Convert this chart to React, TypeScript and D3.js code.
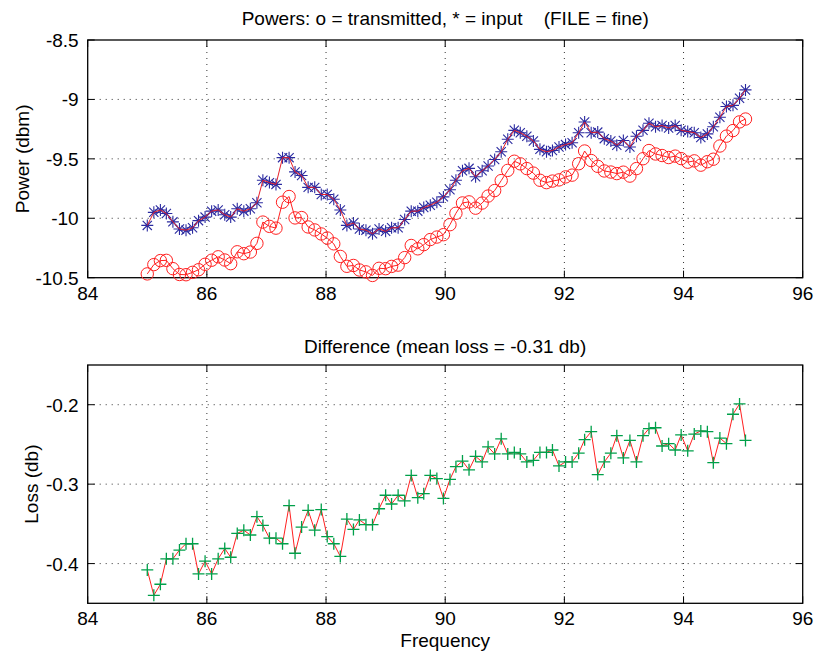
import React from "react";
import * as d3 from "d3";

const freq = [
  85.0, 85.11, 85.22, 85.32, 85.43, 85.54, 85.65, 85.76, 85.86, 85.97,
  86.08, 86.19, 86.3, 86.4, 86.51, 86.62, 86.73, 86.84, 86.94, 87.05,
  87.16, 87.27, 87.38, 87.48, 87.59, 87.7, 87.81, 87.92, 88.02, 88.13,
  88.24, 88.35, 88.46, 88.56, 88.67, 88.78, 88.89, 89.0, 89.1, 89.21,
  89.32, 89.43, 89.54, 89.64, 89.75, 89.86, 89.97, 90.08, 90.18, 90.29,
  90.4, 90.51, 90.62, 90.72, 90.83, 90.94, 91.05, 91.16, 91.26, 91.37,
  91.48, 91.59, 91.7, 91.8, 91.91, 92.02, 92.13, 92.24, 92.34, 92.45,
  92.56, 92.67, 92.78, 92.88, 92.99, 93.1, 93.21, 93.32, 93.42, 93.53,
  93.64, 93.75, 93.86, 93.96, 94.07, 94.18, 94.29, 94.4, 94.5, 94.61,
  94.72, 94.83, 94.94, 95.04,
];

const inputPower = [
  -10.06, -9.95, -9.93, -9.96, -10.03, -10.09, -10.1, -10.08, -10.02, -9.99,
  -9.94, -9.93, -9.97, -9.99, -9.92, -9.94, -9.92, -9.87, -9.68, -9.7,
  -9.715, -9.49, -9.49, -9.61, -9.64, -9.74, -9.74, -9.8, -9.8, -9.84,
  -9.93, -10.06, -10.04, -10.09, -10.1, -10.13, -10.09, -10.11, -10.08, -10.08,
  -10.01, -9.94, -9.94, -9.91, -9.89, -9.865, -9.82, -9.76, -9.68, -9.6,
  -9.58, -9.65, -9.6, -9.56, -9.505, -9.44, -9.335, -9.26, -9.28, -9.31,
  -9.35, -9.42, -9.44, -9.43, -9.4, -9.38, -9.365, -9.28, -9.19, -9.28,
  -9.275, -9.33, -9.35, -9.385, -9.345, -9.4, -9.31, -9.26, -9.2, -9.23,
  -9.22, -9.24, -9.22, -9.26, -9.27, -9.28, -9.32, -9.29, -9.23, -9.15,
  -9.06, -9.05, -8.99, -8.92,
];

const transmittedPower = [
  -10.468, -10.39, -10.356, -10.354, -10.424, -10.473, -10.475, -10.455, -10.433, -10.387,
  -10.353, -10.324, -10.351, -10.382, -10.282, -10.298, -10.284, -10.211, -10.032, -10.068,
  -10.083, -9.865, -9.817, -9.997, -9.994, -10.073, -10.098, -10.132, -10.166, -10.215,
  -10.321, -10.404, -10.397, -10.435, -10.451, -10.481, -10.421, -10.424, -10.405, -10.394,
  -10.331, -10.229, -10.257, -10.222, -10.179, -10.158, -10.138, -10.054, -9.958, -9.871,
  -9.862, -9.915, -9.872, -9.813, -9.767, -9.683, -9.597, -9.52, -9.542, -9.582,
  -9.62, -9.68, -9.7, -9.687, -9.677, -9.652, -9.637, -9.541, -9.434, -9.514,
  -9.563, -9.602, -9.611, -9.624, -9.612, -9.645, -9.582, -9.499, -9.43, -9.459,
  -9.472, -9.489, -9.477, -9.498, -9.528, -9.517, -9.553, -9.524, -9.503, -9.392,
  -9.309, -9.262, -9.189, -9.165,
];

const loss = [
  -0.408, -0.44, -0.426, -0.394, -0.394, -0.383, -0.375, -0.375, -0.413, -0.397,
  -0.413, -0.394, -0.381, -0.392, -0.362, -0.358, -0.364, -0.341, -0.352, -0.368,
  -0.368, -0.375, -0.327, -0.387, -0.354, -0.333, -0.358, -0.332, -0.366, -0.375,
  -0.391, -0.344, -0.357, -0.345, -0.351, -0.351, -0.331, -0.314, -0.325, -0.314,
  -0.321, -0.289, -0.317, -0.312, -0.289, -0.293, -0.318, -0.294, -0.278, -0.271,
  -0.282, -0.265, -0.272, -0.253, -0.262, -0.243, -0.262, -0.26, -0.262, -0.272,
  -0.27, -0.26, -0.26, -0.257, -0.277, -0.272, -0.272, -0.261, -0.244, -0.234,
  -0.288, -0.272, -0.261, -0.239, -0.267, -0.245, -0.272, -0.239, -0.23, -0.229,
  -0.252, -0.249, -0.257, -0.238, -0.258, -0.237, -0.233, -0.234, -0.273, -0.242,
  -0.249, -0.212, -0.199, -0.245,
];

const xTicks = [84, 86, 88, 90, 92, 94, 96];
const topYTicks = [-10.5, -10, -9.5, -9, -8.5];
const bottomYTicks = [-0.4, -0.3, -0.2];

const topTitle = "Powers: o = transmitted, * = input    (FILE = fine)";
const bottomTitle = "Difference (mean loss = -0.31 db)";
const xLabel = "Frequency";
const topYLabel = "Power (dbm)";
const bottomYLabel = "Loss (db)";

const FONT = "'Liberation Sans', Arial, Helvetica, sans-serif";
const FS = 19;
const L = 87.7;
const R = 802.7;

const x = d3.scaleLinear().domain([84, 96]).range([L, R]);
const yTop = d3.scaleLinear().domain([-10.5, -8.5]).range([277.7, 40]);
const yBot = d3.scaleLinear().domain([-0.45, -0.15]).range([603.3, 365]);

function Frame({ y, yTicks, yDomain }: { y: d3.ScaleLinear<number, number>; yTicks: number[]; yDomain: [number, number] }) {
  const [t, b] = [y(yDomain[1]), y(yDomain[0])];
  const tick = 7;
  const gridX = xTicks.filter((v) => v > 84 && v < 96);
  const gridY = yTicks.filter((v) => v > yDomain[0] && v < yDomain[1]);
  return (
    <g>
      {gridX.map((v) => (
        <line key={"gx" + v} x1={x(v)} x2={x(v)} y1={t} y2={b} stroke="#333" strokeWidth={1} strokeDasharray="1,5" />
      ))}
      {gridY.map((v) => (
        <line key={"gy" + v} x1={L} x2={R} y1={y(v)} y2={y(v)} stroke="#333" strokeWidth={1} strokeDasharray="1,5" />
      ))}
      {xTicks.map((v) => (
        <g key={"tx" + v}>
          <line x1={x(v)} x2={x(v)} y1={b} y2={b - tick} stroke="#000" />
          <line x1={x(v)} x2={x(v)} y1={t} y2={t + tick} stroke="#000" />
          <text x={x(v)} y={b + 22} textAnchor="middle" fontSize={FS} fontFamily={FONT}>
            {String(v)}
          </text>
        </g>
      ))}
      {yTicks.map((v) => (
        <g key={"ty" + v}>
          <line x1={L} x2={L + tick} y1={y(v)} y2={y(v)} stroke="#000" />
          <line x1={R} x2={R - tick} y1={y(v)} y2={y(v)} stroke="#000" />
          <text x={L - 9} y={y(v) + 7} textAnchor="end" fontSize={FS} fontFamily={FONT}>
            {String(v)}
          </text>
        </g>
      ))}
      <rect x={L} y={t} width={R - L} height={b - t} fill="none" stroke="#000" strokeWidth={1.3} />
    </g>
  );
}

function Star({ cx, cy }: { cx: number; cy: number }) {
  const s = 6;
  const d = 4.6;
  return (
    <path
      d={`M${cx - s},${cy}L${cx + s},${cy}M${cx},${cy - s}L${cx},${cy + s}M${cx - d},${cy - d}L${cx + d},${cy + d}M${cx - d},${cy + d}L${cx + d},${cy - d}`}
      stroke="#2a2aa0"
      strokeWidth={1.1}
      fill="none"
    />
  );
}

function Plus({ cx, cy }: { cx: number; cy: number }) {
  const s = 6;
  return (
    <path
      d={`M${cx - s},${cy}L${cx + s},${cy}M${cx},${cy - s}L${cx},${cy + s}`}
      stroke="#00a04a"
      strokeWidth={1.3}
      fill="none"
    />
  );
}

export default function App() {
  const lineTop = d3.line<number>().x((_, i) => x(freq[i])).y((v) => yTop(v));
  const lineBot = d3.line<number>().x((_, i) => x(freq[i])).y((v) => yBot(v));
  return (
    <svg width={814} height={653} style={{ position: "absolute", left: 0, top: 0, background: "#fff" }}>
      <rect width={814} height={653} fill="#fff" />
      <Frame y={yTop} yTicks={topYTicks} yDomain={[-10.5, -8.5]} />
      <Frame y={yBot} yTicks={bottomYTicks} yDomain={[-0.45, -0.15]} />

      {inputPower.map((v, i) => (
        <Star key={"s" + i} cx={x(freq[i])} cy={yTop(v)} />
      ))}
      <path d={lineTop(inputPower) || ""} fill="none" stroke="#e8202a" strokeWidth={1} />
      <path d={lineTop(transmittedPower) || ""} fill="none" stroke="#ff2020" strokeWidth={1} />
      {transmittedPower.map((v, i) => (
        <circle key={"c" + i} cx={x(freq[i])} cy={yTop(v)} r={6.2} fill="none" stroke="#ff2020" strokeWidth={1} />
      ))}

      <path d={lineBot(loss) || ""} fill="none" stroke="#ff2020" strokeWidth={1} />
      {loss.map((v, i) => (
        <Plus key={"p" + i} cx={x(freq[i])} cy={yBot(v)} />
      ))}

      <text x={(L + R) / 2} y={25} textAnchor="middle" fontSize={FS} fontFamily={FONT} style={{ whiteSpace: "pre" }}>
        {topTitle}
      </text>
      <text x={(L + R) / 2} y={353} textAnchor="middle" fontSize={FS} fontFamily={FONT}>
        {bottomTitle}
      </text>
      <text x={(L + R) / 2} y={647} textAnchor="middle" fontSize={FS} fontFamily={FONT}>
        {xLabel}
      </text>
      <text transform={`translate(29,${yTop(-9.5)}) rotate(-90)`} textAnchor="middle" fontSize={FS} fontFamily={FONT}>
        {topYLabel}
      </text>
      <text transform={`translate(38,${yBot(-0.3)}) rotate(-90)`} textAnchor="middle" fontSize={FS} fontFamily={FONT}>
        {bottomYLabel}
      </text>
    </svg>
  );
}
